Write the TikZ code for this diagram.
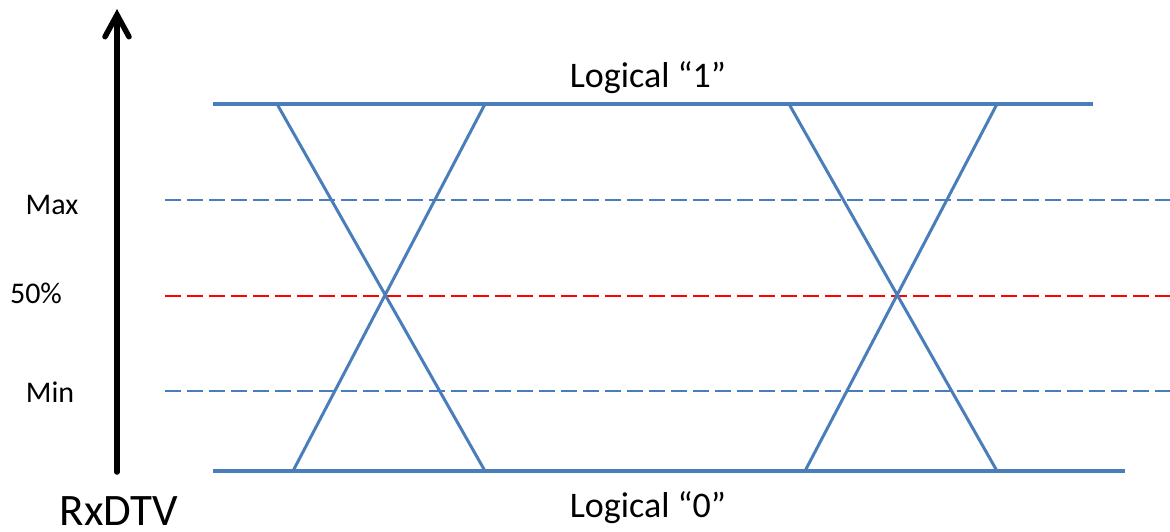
\documentclass[tikz,border=0pt]{standalone}
\usepackage{fontspec}
\setmainfont{Carlito}
\usetikzlibrary{arrows.meta}

\begin{document}
\begin{tikzpicture}[x=1pt,y=-1pt,>={Straight Barb[length=22pt,width=24pt,line cap=round]}]
            \definecolor{sigblue}{RGB}{74,126,187}
            \definecolor{midred}{RGB}{255,0,0}
            \tikzset{
              level/.style={line width=3.5pt,sigblue},
              thresh/.style={line width=2pt,dash pattern=on 16pt off 6pt},
              lab/.style={anchor=base,inner sep=0pt,font=\fontsize{30}{36}\selectfont}
            }
            \useasboundingbox (0,0) rectangle (1170,531);
            % axis arrow
            \coordinate (axbot) at (117,472);
            \coordinate (axtop) at (117,9);
            \draw[->,line width=5.5pt,line cap=round] (axbot) -- (axtop);
            % threshold lines
            \draw[thresh,sigblue] (165,200) coordinate (maxl) -- (1170,200) coordinate (maxr);
            \draw[thresh,midred] (165,296) coordinate (midl) -- (1170,296) coordinate (midr);
            \draw[thresh,sigblue] (165,391) coordinate (minl) -- (1170,391) coordinate (minr);
            % logic levels
            \draw[level] (213,104) coordinate (hil) -- (1093,104) coordinate (hir);
            \draw[level] (213,471) coordinate (lol) -- (1125,471) coordinate (lor);
            % eye crossings
            \foreach \s in {0,512}{
                \draw[level,line width=3pt] (277+\s,104) -- (485+\s,471);
                \draw[level,line width=3pt] (293+\s,471) -- (485+\s,104);
            }
            \node[lab,font=\fontsize{36}{42}\selectfont] (one) at (648,87) {Logical “1”};
            \node[lab,font=\fontsize{36}{42}\selectfont] (zero) at (648,517) {Logical “0”};
            \node[lab] (maxlab) at (52,214) {Max};
            \node[lab] (midlab) at (36,303) {50\%};
            \node[lab] (minlab) at (50,402) {Min};
            \node[lab,font=\fontsize{45}{50}\selectfont] (axlab) at (119,525) {RxDTV};
        \end{tikzpicture}
\end{document}
